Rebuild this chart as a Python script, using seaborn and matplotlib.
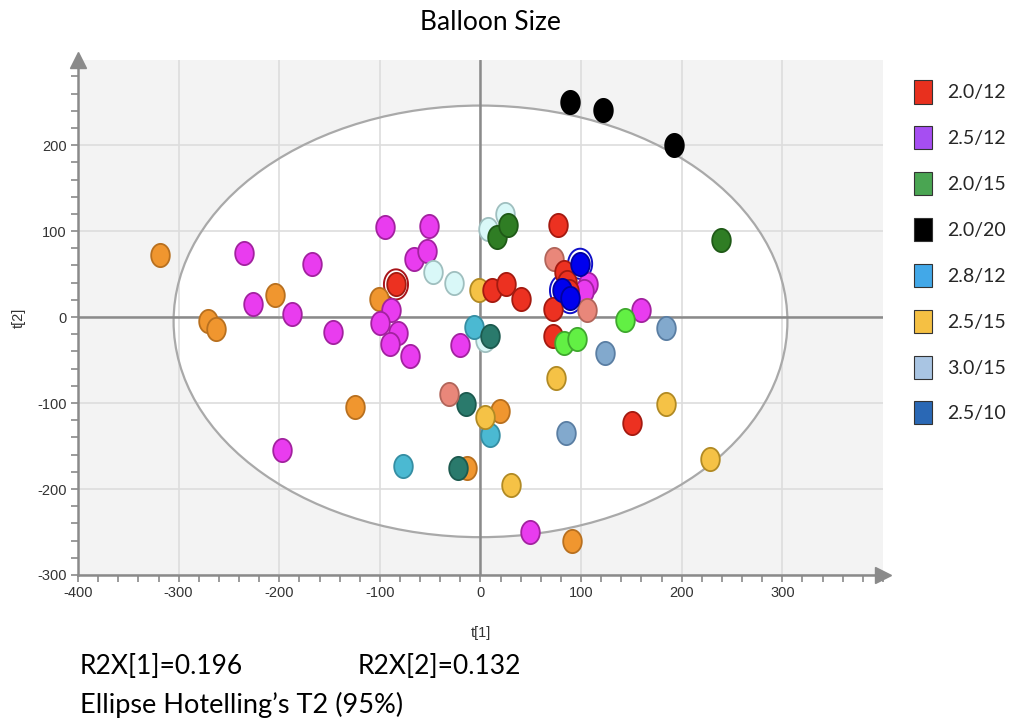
import numpy as np
import pandas as pd
import matplotlib
matplotlib.use("Agg")
import matplotlib.pyplot as plt
import seaborn as sns
from matplotlib.patches import Ellipse, Patch
from matplotlib.path import Path
from matplotlib.ticker import MultipleLocator

# ---- score values (t[1], t[2]) grouped by marker colour ----
orange_t1 = [-319, -271, -263, -204, -101, -125, -13, 19, 91]
orange_t2 = [72, -4, -14, 26, 21, -105, -175, -109, -260]

magenta_t1 = [-235, -167, -226, -187, -147, -197, -95, -51, -66, -53,
              -89, -100, -82, -90, -70, -20, 107, 103, 160, 49]
magenta_t2 = [75, 62, 15, 4, -17, -155, 105, 106, 68, 77,
              8, -7, -18, -31, -45, -32, 38, 30, 8, -250]

lightcyan_t1 = [24, 7, -47, -26, 4]
lightcyan_t2 = [120, 102, 53, 40, -27]

darkgreen_t1 = [16, 27, 239]
darkgreen_t2 = [93, 107, 90]

cyan_t1 = [-6, 9, -77]
cyan_t2 = [-11, -137, -173]

teal_t1 = [9, -14, -22]
teal_t2 = [-22, -101, -175]

gold_t1 = [-1, 75, 4, 30, 184, 228]
gold_t2 = [31, -71, -116, -195, -101, -165]

salmon_t1 = [73, 106, -31]
salmon_t2 = [68, 8, -89]

red_t1 = [-84, 11, 77, 25, 40, 83, 86, 88, 72, 72, 151]
red_t2 = [38, 31, 107, 38, 21, 53, 41, 30, 9, -22, -123]

lightgreen_t1 = [144, 83, 96]
lightgreen_t2 = [-3, -30, -26]

steelblue_t1 = [124, 184, 85]
steelblue_t2 = [-42, -13, -135]

black_t1 = [89, 122, 192]
black_t2 = [250, 241, 200]

blue_t1 = [99, 81, 89]
blue_t2 = [62, 31, 22]

# samples drawn with a ring around them
ringed_t1 = [-84, 99, 81, 89]
ringed_t2 = [38, 62, 31, 22]
ringed_colour = ["#a8141a", "#1010c8", "#1010c8", "#1010c8"]

# legend
legend_labels = ["2.0/12", "2.5/12", "2.0/15", "2.0/20", "2.8/12", "2.5/15", "3.0/15", "2.5/10"]
legend_colours = ["#e8301e", "#a64ef2", "#4aa552", "#000000", "#42a8e8", "#f5c043", "#a9c5e3", "#2a68b5"]

# ---- tidy table ----
groups = [
    ("orange", orange_t1, orange_t2),
    ("magenta", magenta_t1, magenta_t2),
    ("lightcyan", lightcyan_t1, lightcyan_t2),
    ("darkgreen", darkgreen_t1, darkgreen_t2),
    ("cyan", cyan_t1, cyan_t2),
    ("teal", teal_t1, teal_t2),
    ("gold", gold_t1, gold_t2),
    ("salmon", salmon_t1, salmon_t2),
    ("red", red_t1, red_t2),
    ("lightgreen", lightgreen_t1, lightgreen_t2),
    ("steelblue", steelblue_t1, steelblue_t2),
    ("black", black_t1, black_t2),
    ("blue", blue_t1, blue_t2),
]
df = pd.concat(
    [pd.DataFrame({"t1": a, "t2": b, "group": g}) for g, a, b in groups],
    ignore_index=True,
)

fill = {
    "orange": "#f0962f", "magenta": "#e93cef", "lightcyan": "#d9f8f8",
    "darkgreen": "#2f7d24", "cyan": "#4bb9d2", "teal": "#2a7a6c",
    "gold": "#f5c246", "salmon": "#e9877a", "red": "#ec3121",
    "lightgreen": "#62f044", "steelblue": "#82a9cd", "black": "#000000",
    "blue": "#0000ee",
}
edge = {
    "orange": "#b8701f", "magenta": "#a2229f", "lightcyan": "#9fbfbf",
    "darkgreen": "#1f5a17", "cyan": "#358ea3", "teal": "#1c5a4f",
    "gold": "#b18a24", "salmon": "#b1655a", "red": "#a41a10",
    "lightgreen": "#3fa82e", "steelblue": "#5a7ea3", "black": "#000000",
    "blue": "#0000a0",
}

# slightly tall oval marker
theta = np.linspace(0, 2 * np.pi, 64)
oval = Path(np.column_stack([0.8 * np.cos(theta), np.sin(theta)]), closed=True)

sns.set_theme(style="white")
plt.rcParams["font.family"] = ["Liberation Sans", "DejaVu Sans"]
plt.rcParams["axes.unicode_minus"] = False

fig = plt.figure(figsize=(10.2, 7.2), dpi=100)
ax = fig.add_axes([78 / 1020, 1 - 575 / 720, (883 - 78) / 1020, (575 - 60) / 720])

ax.set_xlim(-400, 400)
ax.set_ylim(-300, 299)
ax.set_facecolor("#f3f3f3")

# Hotelling T2 ellipse: white interior, grey outline
ax.add_patch(Ellipse((0, -5), 610, 502, facecolor="white", edgecolor="none", zorder=0.2))
ax.add_patch(Ellipse((0, -5), 610, 502, facecolor="none", edgecolor="#a9a9a9", lw=1.6, zorder=1.2))

ax.set_axisbelow(True)
ax.xaxis.set_major_locator(MultipleLocator(100))
ax.yaxis.set_major_locator(MultipleLocator(100))
ax.xaxis.set_minor_locator(MultipleLocator(20))
ax.yaxis.set_minor_locator(MultipleLocator(20))
ax.grid(True, which="major", color="#dddddd", lw=1.2)
ax.set_xticks([-400, -300, -200, -100, 0, 100, 200, 300])
ax.set_yticks([-300, -200, -100, 0, 100, 200])

ax.axhline(0, color="#8a8a8a", lw=1.8, zorder=1.3)
ax.axvline(0, color="#8a8a8a", lw=1.8, zorder=1.3)

# ringed samples: outer ring
ax.scatter(ringed_t1, ringed_t2, s=470, marker=oval, facecolor="white",
           edgecolor=ringed_colour, linewidth=1.4, zorder=2)

for g, _, _ in groups:
    sub = df[df["group"] == g]
    sns.scatterplot(data=sub, x="t1", y="t2", ax=ax, s=280, marker=oval,
                    color=fill[g], edgecolor=edge[g], linewidth=1.3,
                    legend=False, zorder=3)

for side in ["top", "right"]:
    ax.spines[side].set_visible(False)
for side in ["left", "bottom"]:
    ax.spines[side].set_color("#8a8a8a")
    ax.spines[side].set_linewidth(1.8)

ax.tick_params(axis="both", which="both", direction="out", length=5, width=1.2,
               color="#8a8a8a", labelsize=10.5, labelcolor="#333333", pad=3,
               bottom=True, left=True)

# axis arrows
ax.plot([1], [0], marker=">", markersize=12, color="#8a8a8a", transform=ax.transAxes,
        clip_on=False, zorder=5)
ax.plot([0], [1], marker="^", markersize=12, color="#8a8a8a", transform=ax.transAxes,
        clip_on=False, zorder=5)

ax.set_xlabel("t[1]", fontsize=10.5, color="#333333")
ax.set_ylabel("t[2]", fontsize=10.5, color="#333333")
ax.xaxis.set_label_coords((481 - 78) / (883 - 78), -0.1)
ax.yaxis.set_label_coords(-(78 - 26) / (883 - 78), 0.5)

txt_font = ["Lato", "DejaVu Sans"]
fig.text(490 / 1020, 1 - 22 / 720, "Balloon Size", ha="center", va="center",
         fontsize=19, family=txt_font, color="black")
fig.text(80 / 1020, 1 - 666 / 720, "R2X[1]=0.196", ha="left", va="center",
         fontsize=19, family=txt_font, color="black")
fig.text(358 / 1020, 1 - 666 / 720, "R2X[2]=0.132", ha="left", va="center",
         fontsize=19, family=txt_font, color="black")
fig.text(80 / 1020, 1 - 705 / 720, "Ellipse Hotelling\u2019s T2 (95%)", ha="left", va="center",
         fontsize=19.5, family=txt_font, color="black")

handles = [Patch(facecolor=c, edgecolor="#333333", lw=0.8) for c in legend_colours]
fig.legend(handles, legend_labels, loc="upper left", bbox_to_anchor=(897 / 1020, 1 - 63 / 720),
           frameon=False, handlelength=0.9, handleheight=1.45,
           handletextpad=0.8, labelspacing=1.17, prop={"family": txt_font, "size": 14})

fig.savefig("out.png", dpi=100, facecolor="white")
